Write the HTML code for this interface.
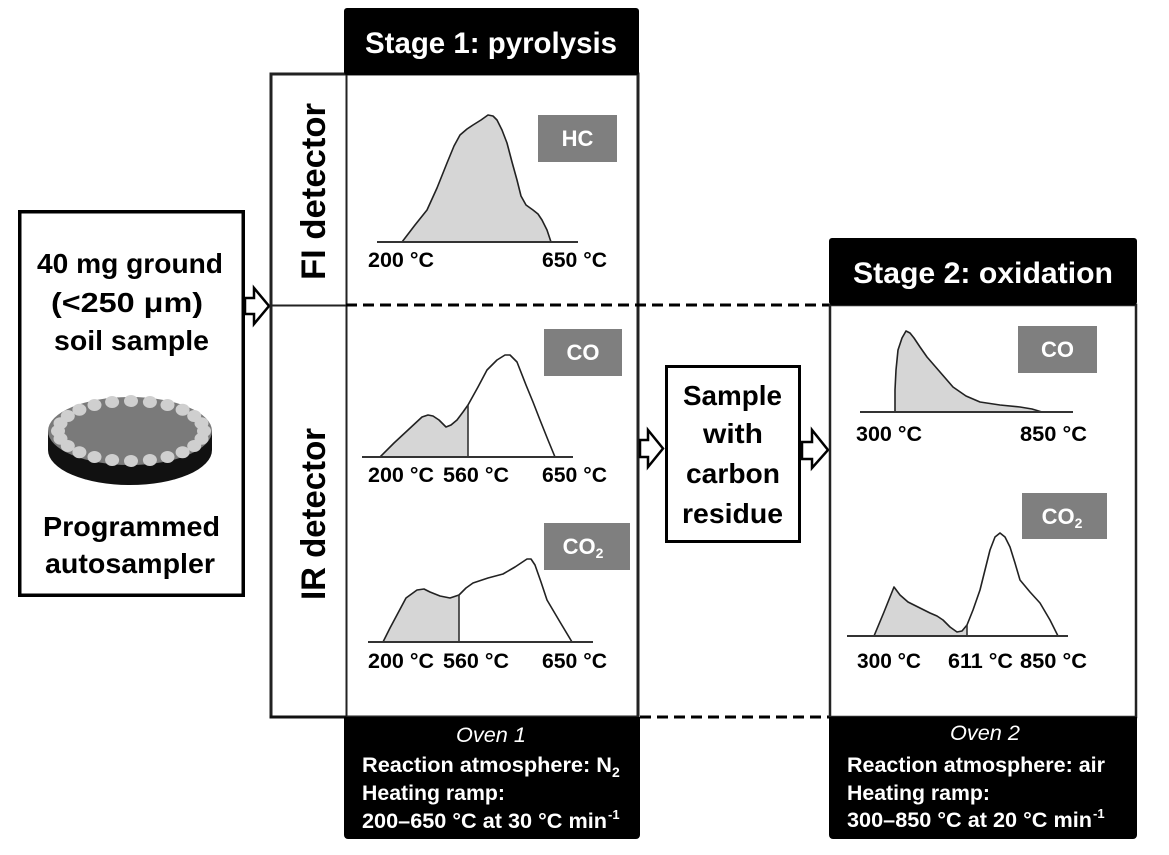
<!DOCTYPE html>
<html><head><meta charset="utf-8"><style>
html,body{margin:0;padding:0;background:#fff;}
svg{display:block;}
text{font-family:"Liberation Sans",sans-serif;}
.b{font-weight:bold;}
</style></head><body>
<svg width="1169" height="855" viewBox="0 0 1169 855" xmlns="http://www.w3.org/2000/svg">
<rect width="1169" height="855" fill="#fff"/>

<!-- Left sample box -->
<rect x="19.75" y="211.75" width="223.5" height="383.5" fill="#fff" stroke="#000" stroke-width="3.5"/>
<g class="b" font-size="28" fill="#000">
<text x="37" y="273" textLength="186" lengthAdjust="spacingAndGlyphs">40 mg ground</text>
<text x="51" y="312" textLength="152" lengthAdjust="spacingAndGlyphs">(&lt;250 μm)</text>
<text x="54" y="350" textLength="155" lengthAdjust="spacingAndGlyphs">soil sample</text>
<text x="43" y="536" textLength="177" lengthAdjust="spacingAndGlyphs">Programmed</text>
<text x="45" y="573" textLength="170" lengthAdjust="spacingAndGlyphs">autosampler</text>
</g>
<!-- disc -->
<rect x="48" y="431" width="164" height="19" fill="#111"/>
<ellipse cx="130" cy="450" rx="82" ry="35" fill="#111"/>
<ellipse cx="130" cy="431" rx="82" ry="34" fill="#7a7a7a"/>
<g fill="#cfcfcf">
<ellipse cx="204" cy="431" rx="7" ry="6"/><ellipse cx="201.5" cy="438.8" rx="7" ry="6"/>
<ellipse cx="194.2" cy="446" rx="7" ry="6"/><ellipse cx="182.6" cy="452.2" rx="7" ry="6"/>
<ellipse cx="167.5" cy="457" rx="7" ry="6"/><ellipse cx="149.9" cy="460" rx="7" ry="6"/>
<ellipse cx="131" cy="461" rx="7" ry="6"/><ellipse cx="112.1" cy="460" rx="7" ry="6"/>
<ellipse cx="94.5" cy="457" rx="7" ry="6"/><ellipse cx="79.4" cy="452.2" rx="7" ry="6"/>
<ellipse cx="67.8" cy="446" rx="7" ry="6"/><ellipse cx="60.5" cy="438.8" rx="7" ry="6"/>
<ellipse cx="58" cy="431" rx="7" ry="6"/><ellipse cx="60.5" cy="423.2" rx="7" ry="6"/>
<ellipse cx="67.8" cy="416" rx="7" ry="6"/><ellipse cx="79.4" cy="409.8" rx="7" ry="6"/>
<ellipse cx="94.5" cy="405" rx="7" ry="6"/><ellipse cx="112.1" cy="402" rx="7" ry="6"/>
<ellipse cx="131" cy="401" rx="7" ry="6"/><ellipse cx="149.9" cy="402" rx="7" ry="6"/>
<ellipse cx="167.5" cy="405" rx="7" ry="6"/><ellipse cx="182.6" cy="409.8" rx="7" ry="6"/>
<ellipse cx="194.2" cy="416" rx="7" ry="6"/><ellipse cx="201.5" cy="423.2" rx="7" ry="6"/>
</g>

<!-- Arrow 1 -->
<polygon points="245,298 254,298 254,288 269,306 254,324 254,314 245,314" fill="#fff" stroke="#000" stroke-width="2.5" stroke-linejoin="miter"/>

<!-- Detector box -->
<rect x="271" y="74" width="367" height="643" fill="none" stroke="#222" stroke-width="3"/>
<line x1="346.5" y1="74" x2="346.5" y2="717" stroke="#222" stroke-width="2"/>
<line x1="271" y1="305.5" x2="346" y2="305.5" stroke="#222" stroke-width="2"/>
<rect x="269.5" y="715.5" width="77" height="3" fill="#111"/>

<!-- rotated labels -->
<text class="b" font-size="34" transform="translate(325,280) rotate(-90)" textLength="177" lengthAdjust="spacingAndGlyphs">FI detector</text>
<text class="b" font-size="34" transform="translate(325,600) rotate(-90)" textLength="172" lengthAdjust="spacingAndGlyphs">IR detector</text>

<!-- Stage 1 header -->
<rect x="344" y="8" width="295" height="67" rx="3" fill="#000"/>
<text class="b" x="365" y="53" font-size="30" fill="#fff" textLength="252" lengthAdjust="spacingAndGlyphs">Stage 1: pyrolysis</text>

<!-- Dashed lines -->
<line x1="346" y1="305" x2="829" y2="305" stroke="#000" stroke-width="3" stroke-dasharray="11 6"/>
<line x1="640" y1="717" x2="829" y2="717" stroke="#000" stroke-width="3" stroke-dasharray="11 6"/>

<!-- HC chart -->
<path d="M402,242 L415,225 L427,210 L437,188 L447,163 L454,146 L460,135 L467,129 L473,125 L481,120 L488,115 L493,116 L497,120 L502,130 L507,143 L512,162 L517,180 L521,196 L526,205 L533,210 L538,214 L542,220 L547,230 L551,242 Z" fill="#d6d6d6" stroke="#222" stroke-width="1.6" stroke-linejoin="round"/>
<line x1="377" y1="242" x2="578" y2="242" stroke="#333" stroke-width="2"/>
<rect x="538" y="115" width="79" height="47" fill="#7f7f7f"/>
<text class="b" x="577.5" y="146" font-size="22" fill="#fff" text-anchor="middle">HC</text>
<g class="b" font-size="21">
<text x="368" y="267" textLength="66" lengthAdjust="spacingAndGlyphs">200 °C</text>
<text x="542" y="267" textLength="65" lengthAdjust="spacingAndGlyphs">650 °C</text>
</g>

<!-- CO chart stage 1 -->
<path d="M380,457 L394,443 L408,430 L422,417 L428,415 L433,416 L439,420 L446,427 L451,425 L457,420 L463,412 L468,405 L468,457 Z" fill="#d6d6d6"/>
<path d="M380,457 L394,443 L408,430 L422,417 L428,415 L433,416 L439,420 L446,427 L451,425 L457,420 L463,412 L468,405 L478,387 L487,370 L497,360 L505,355 L510,355 L517,362 L526,385 L533,402 L540,420 L548,440 L555,457" fill="none" stroke="#222" stroke-width="1.6" stroke-linejoin="round"/>
<line x1="468" y1="405" x2="468" y2="457" stroke="#333" stroke-width="1.6"/>
<line x1="362" y1="457" x2="573" y2="457" stroke="#333" stroke-width="2"/>
<rect x="544" y="329" width="78" height="47" fill="#7f7f7f"/>
<text class="b" x="583" y="360" font-size="22" fill="#fff" text-anchor="middle">CO</text>
<g class="b" font-size="21">
<text x="368" y="482" textLength="66" lengthAdjust="spacingAndGlyphs">200 °C</text>
<text x="443" y="482" textLength="66" lengthAdjust="spacingAndGlyphs">560 °C</text>
<text x="542" y="482" textLength="65" lengthAdjust="spacingAndGlyphs">650 °C</text>
</g>

<!-- CO2 chart stage 1 -->
<path d="M383,642 L390,628 L398,613 L406,598 L417,590 L424,589 L430,592 L440,596 L450,598 L459,595 L459,642 Z" fill="#d6d6d6"/>
<path d="M383,642 L390,628 L398,613 L406,598 L417,590 L424,589 L430,592 L440,596 L450,598 L459,595 L466,588 L473,583 L488,578 L503,574 L515,567 L527,559 L531,559 L535,565 L541,582 L547,600 L560,622 L572,642" fill="none" stroke="#222" stroke-width="1.6" stroke-linejoin="round"/>
<line x1="459" y1="595" x2="459" y2="642" stroke="#333" stroke-width="1.6"/>
<line x1="368" y1="642" x2="593" y2="642" stroke="#333" stroke-width="2"/>
<rect x="544" y="523" width="86" height="47" fill="#7f7f7f"/>
<text class="b" x="583" y="554" font-size="22" fill="#fff" text-anchor="middle">CO<tspan font-size="14" dy="4">2</tspan></text>
<g class="b" font-size="21">
<text x="368" y="668" textLength="66" lengthAdjust="spacingAndGlyphs">200 °C</text>
<text x="443" y="668" textLength="66" lengthAdjust="spacingAndGlyphs">560 °C</text>
<text x="542" y="668" textLength="65" lengthAdjust="spacingAndGlyphs">650 °C</text>
</g>

<!-- Oven 1 -->
<rect x="344" y="717" width="296" height="122" rx="4" fill="#000"/>
<rect x="344" y="717" width="296" height="10" fill="#000"/>
<g fill="#fff" font-size="21">
<text x="456" y="742" font-style="italic" textLength="70" lengthAdjust="spacingAndGlyphs">Oven 1</text>
<text class="b" x="362" y="772" textLength="250" lengthAdjust="spacingAndGlyphs">Reaction atmosphere: N</text>
<text class="b" x="612" y="777" font-size="14">2</text>
<text class="b" x="362" y="800" textLength="143" lengthAdjust="spacingAndGlyphs">Heating ramp:</text>
<text class="b" x="362" y="828" textLength="245" lengthAdjust="spacingAndGlyphs">200–650 °C at 30 °C min</text>
<text class="b" x="608" y="819" font-size="13">-1</text>
</g>

<!-- Arrow 2 -->
<polygon points="640,440 648,440 648,430 663,448.5 648,467 648,457 640,457" fill="#fff" stroke="#000" stroke-width="2.5"/>

<!-- Middle box -->
<rect x="666.5" y="366.5" width="133" height="175" fill="#fff" stroke="#000" stroke-width="3"/>
<g class="b" font-size="28">
<text x="683" y="405" textLength="99" lengthAdjust="spacingAndGlyphs">Sample</text>
<text x="703" y="443" textLength="60" lengthAdjust="spacingAndGlyphs">with</text>
<text x="686" y="483" textLength="94" lengthAdjust="spacingAndGlyphs">carbon</text>
<text x="682" y="523" textLength="101" lengthAdjust="spacingAndGlyphs">residue</text>
</g>

<!-- Arrow 3 -->
<polygon points="802,442 812,442 812,430 828,450 812,468 812,459 802,459" fill="#fff" stroke="#000" stroke-width="2.5"/>

<!-- Stage 2 panel -->
<rect x="830" y="305" width="306" height="412" fill="none" stroke="#222" stroke-width="2.5"/>
<rect x="829" y="238" width="308" height="67" rx="3" fill="#000"/>
<text class="b" x="853" y="283" font-size="30" fill="#fff" textLength="260" lengthAdjust="spacingAndGlyphs">Stage 2: oxidation</text>

<!-- Stage 2 CO -->
<path d="M895,412 L895,390 L896,370 L898,350 L902,338 L906,331 L910,333 L914,338 L920,347 L927,357 L940,372 L953,387 L966,396 L980,402 L1000,405 L1020,407 L1032,409 L1042,412 Z" fill="#d6d6d6" stroke="#222" stroke-width="1.6" stroke-linejoin="round"/>
<line x1="860" y1="412" x2="1073" y2="412" stroke="#333" stroke-width="2"/>
<rect x="1018" y="326" width="79" height="47" fill="#7f7f7f"/>
<text class="b" x="1057.5" y="357" font-size="22" fill="#fff" text-anchor="middle">CO</text>
<g class="b" font-size="21">
<text x="856" y="441" textLength="66" lengthAdjust="spacingAndGlyphs">300 °C</text>
<text x="1020" y="441" textLength="67" lengthAdjust="spacingAndGlyphs">850 °C</text>
</g>

<!-- Stage 2 CO2 -->
<path d="M874,636 L884,612 L894,587 L900,595 L908,602 L920,608 L930,613 L937,616 L943,620 L950,627 L957,632 L962,631 L967,625 L967,636 Z" fill="#d6d6d6"/>
<path d="M874,636 L884,612 L894,587 L900,595 L908,602 L920,608 L930,613 L937,616 L943,620 L950,627 L957,632 L962,631 L967,625 L973,610 L980,590 L985,570 L990,550 L995,537 L1000,533 L1005,537 L1010,547 L1015,563 L1020,580 L1030,592 L1040,603 L1050,620 L1058,636" fill="none" stroke="#222" stroke-width="1.6" stroke-linejoin="round"/>
<line x1="967" y1="625" x2="967" y2="636" stroke="#333" stroke-width="1.6"/>
<line x1="847" y1="636" x2="1068" y2="636" stroke="#333" stroke-width="2"/>
<rect x="1022" y="493" width="85" height="46" fill="#7f7f7f"/>
<text class="b" x="1062" y="524" font-size="22" fill="#fff" text-anchor="middle">CO<tspan font-size="14" dy="4">2</tspan></text>
<g class="b" font-size="21">
<text x="857" y="668" textLength="64" lengthAdjust="spacingAndGlyphs">300 °C</text>
<text x="948" y="668" textLength="65" lengthAdjust="spacingAndGlyphs">611 °C</text>
<text x="1020" y="668" textLength="67" lengthAdjust="spacingAndGlyphs">850 °C</text>
</g>

<!-- Oven 2 -->
<rect x="829" y="717" width="308" height="122" rx="4" fill="#000"/>
<rect x="829" y="717" width="308" height="10" fill="#000"/>
<g fill="#fff" font-size="21">
<text x="950" y="740" font-style="italic" textLength="70" lengthAdjust="spacingAndGlyphs">Oven 2</text>
<text class="b" x="847" y="772" textLength="258" lengthAdjust="spacingAndGlyphs">Reaction atmosphere: air</text>
<text class="b" x="847" y="800" textLength="143" lengthAdjust="spacingAndGlyphs">Heating ramp:</text>
<text class="b" x="847" y="827" textLength="245" lengthAdjust="spacingAndGlyphs">300–850 °C at 20 °C min</text>
<text class="b" x="1093" y="818" font-size="13">-1</text>
</g>
</svg>
</body></html>
